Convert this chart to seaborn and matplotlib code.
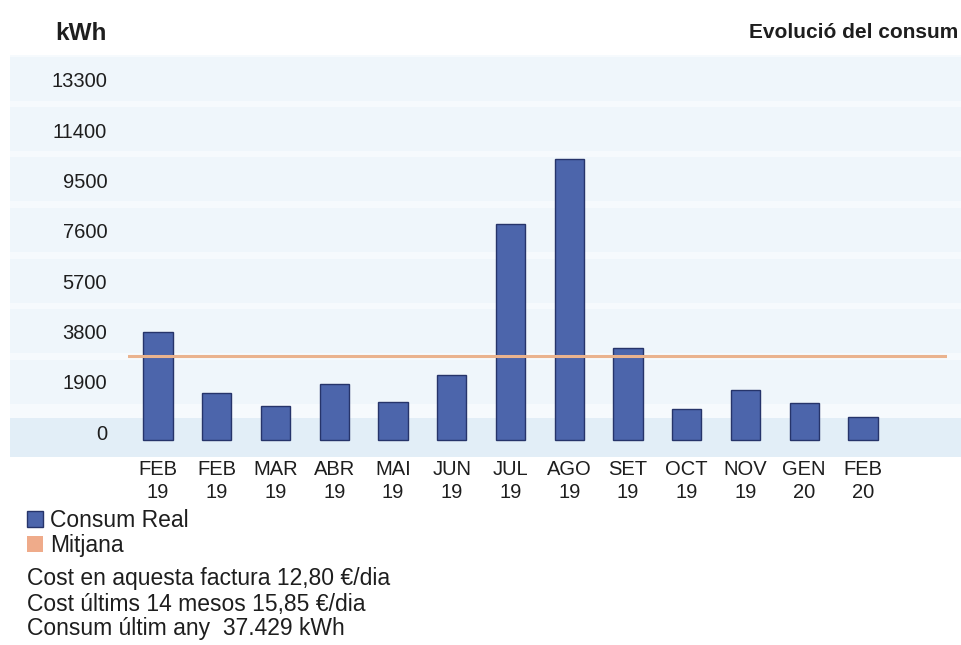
import numpy as np
import pandas as pd
import matplotlib
matplotlib.use("Agg")
import matplotlib.pyplot as plt
from matplotlib.patches import Patch, Rectangle
from matplotlib.transforms import ScaledTranslation
import seaborn as sns

# --- dades ---
MESOS = ["FEB", "FEB", "MAR", "ABR", "MAI", "JUN", "JUL", "AGO", "SET", "OCT", "NOV", "GEN", "FEB"]
ANYS = ["19", "19", "19", "19", "19", "19", "19", "19", "19", "19", "19", "20", "20"]
CONSUM = [4090, 1790, 1300, 2120, 1440, 2460, 8150, 10610, 3470, 1170, 1890, 1390, 880]
MITJANA = 3170
Y_TICKS = [0, 1900, 3800, 5700, 7600, 9500, 11400, 13300]

NOTES = [
    "Cost en aquesta factura 12,80 €/dia",
    "Cost últims 14 mesos 15,85 €/dia",
    "Consum últim any  37.429 kWh",
]

df = pd.DataFrame({"idx": range(len(CONSUM)), "consum": CONSUM})
etiquetes = [f"{m}\n{a}" for m, a in zip(MESOS, ANYS)]

BAR_COLOR = "#4c65ab"
EDGE_COLOR = "#26346a"
LINE_COLOR = "#eab38e"
TEXT_COLOR = "#1e1e1e"

sns.set_style("white")
plt.rcParams["font.family"] = ["Liberation Sans", "DejaVu Sans"]

W, H = 962, 645
fig = plt.figure(figsize=(W / 100, H / 100), dpi=100)
fig.patch.set_facecolor("white")

# fons amb franges blaves molt suaus (paper escanejat), en píxels
bg = fig.add_axes([0, 0, 1, 1], zorder=0)
bg.set_xlim(0, W)
bg.set_ylim(H, 0)
bg.axis("off")
bg.add_patch(Rectangle((10, 55), W - 10, 402, facecolor="#f6fafd", edgecolor="none"))
for yc in [80, 130, 180, 231, 282, 332, 383]:
    bg.add_patch(Rectangle((10, yc - 23), W - 10, 44, facecolor="#eff6fb", edgecolor="none"))
bg.add_patch(Rectangle((10, 418), W - 10, 39, facecolor="#e2eef7", edgecolor="none"))

# eix principal
px_per_unit = 50.3 / 1900
x0, x1, yb, yt, base = 128, 947, 455, 55, 440
ax = fig.add_axes([x0 / W, 1 - yb / H, (x1 - x0) / W, (yb - yt) / H], zorder=1)
ax.set_facecolor("none")

sns.barplot(data=df, x="idx", y="consum", color=BAR_COLOR, width=0.5,
            edgecolor=EDGE_COLOR, linewidth=1.0, saturation=1, ax=ax)
ax.axhline(MITJANA, color=LINE_COLOR, linewidth=2.2, zorder=3)

ax.set_xlim(-0.51, 13.43)
ax.set_ylim(-(yb - base) / px_per_unit, (base - yt) / px_per_unit)
sns.despine(ax=ax, left=True, bottom=True)

ax.set_yticks(Y_TICKS)
ax.set_yticklabels([str(v) for v in Y_TICKS], fontsize=14.5, color=TEXT_COLOR)
ax.tick_params(axis="y", length=0, pad=15)
off = ScaledTranslation(0, 8 / 100, fig.dpi_scale_trans)
for lab in ax.get_yticklabels():
    lab.set_transform(lab.get_transform() + off)

ax.set_xticks(range(len(etiquetes)))
ax.set_xticklabels(etiquetes, fontsize=14.5, color=TEXT_COLOR, linespacing=1.3)
ax.tick_params(axis="x", length=0, pad=3.5)
ax.set_xlabel("")
ax.set_ylabel("")

# títols
fig.text(55 / W, 1 - 33 / H, "kWh", fontsize=17.5, fontweight="bold",
         color=TEXT_COLOR, va="center", ha="left")
fig.text(958 / W, 1 - 33 / H, "Evolució del consum", fontsize=15, fontweight="bold",
         color=TEXT_COLOR, va="center", ha="right")

# llegenda
handles = [Patch(facecolor=BAR_COLOR, edgecolor=EDGE_COLOR, label="Consum Real"),
           Patch(facecolor="#efab8a", edgecolor="none", label="Mitjana")]
fig.legend(handles=handles, loc="upper left", bbox_to_anchor=(27 / W, 1 - 509 / H),
           frameon=False, fontsize=16.5, handlelength=0.7, handleheight=0.7,
           handletextpad=0.3, labelspacing=0.1, borderpad=0, borderaxespad=0,
           labelcolor=TEXT_COLOR)

for i, t in enumerate(NOTES):
    fig.text(27 / W, 1 - (579 + 25 * i) / H, t, fontsize=16.5, color=TEXT_COLOR,
             va="center", ha="left")

fig.savefig("out.png", dpi=100)
